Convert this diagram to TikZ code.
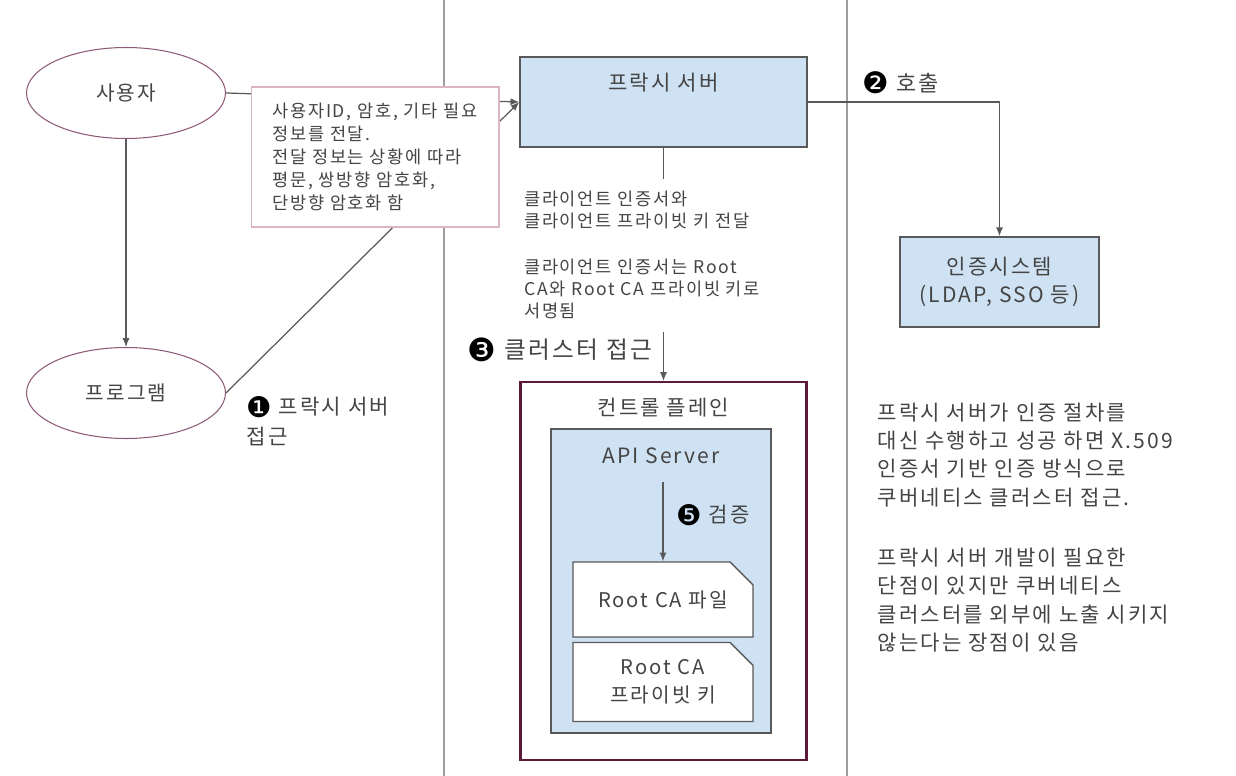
\documentclass[tikz,border=0pt]{standalone}
\usepackage{fontspec}
\setmainfont{Noto Sans CJK KR}[LetterSpace=10]
\newfontfamily\numfont{DejaVu Sans}
\usetikzlibrary{arrows.meta, positioning, shapes.geometric, shapes.misc}

\definecolor{inkgray}{HTML}{444444}
\definecolor{wiregray}{HTML}{595959}
\definecolor{railgray}{HTML}{9E9E9E}
\definecolor{paleblue}{HTML}{CFE2F3}
\definecolor{plum}{HTML}{8E5A78}
\definecolor{rosepink}{HTML}{DDB4C6}
\definecolor{wine}{HTML}{5B1A3A}

\newcommand{\stepmark}[1]{\raisebox{-0.12em}{\scalebox{1.35}{\numfont\color{black}#1}}}

\begin{document}
\begin{tikzpicture}[
  x=0.02cm, y=-0.02cm,
  >={Latex[length=5pt, width=4pt]}, line width=0.7pt,
  every node/.style={text=inkgray},
  actor/.style={ellipse, draw=plum, line width=0.6pt, minimum width=3.98cm, minimum height=1.82cm, font=\fontsize{11.5}{14}\selectfont},
  server/.style={draw=wiregray, fill=paleblue, line width=0.9pt},
  memo/.style={draw=rosepink, fill=white, line width=0.6pt, minimum width=4.96cm, minimum height=2.8cm, align=left, font=\fontsize{10}{13}\selectfont},
  docbox/.style={chamfered rectangle, chamfered rectangle corners=north east, chamfered rectangle xsep=6.5pt, chamfered rectangle ysep=6.5pt, draw=wiregray, fill=white, line width=0.8pt, minimum width=3.6cm, align=center, font=\fontsize{11.5}{15.8}\selectfont},
  caption/.style={font=\fontsize{12}{14}\selectfont},
  remark/.style={align=left, inner sep=0pt, font=\fontsize{12}{16.2}\selectfont},
  wire/.style={draw=wiregray, ->},
  rail/.style={draw=railgray, line width=1.1pt}
]
  \useasboundingbox (0,0) rectangle (1236,776);

  % separateurs
  \draw[rail] (444,0) -- (444,776);
  \draw[rail] (847,0) -- (847,776);

  \node[actor] (user) at (126,93) {사용자};
  \node[actor] (prog) at (126,393) {프로그램};

  \node[server, minimum width=5.74cm, minimum height=1.8cm] (proxy) at (663.5,102) {};
  \node[caption] (proxytitle) at (663.5,83) {프락시 서버};

  \node[server, minimum width=3.98cm, minimum height=1.8cm, align=center, font=\fontsize{12}{15.9}\selectfont] (auth) at (999.5,282) {인증시스템\\(LDAP, SSO 등)};

  \node[draw=wine, line width=1.2pt, minimum width=5.72cm, minimum height=7.56cm] (plane) at (663.5,571) {};
  \node[caption] (planetitle) at (663.5,408) {컨트롤 플레인};
  \node[server, minimum width=4.4cm, minimum height=6.08cm] (api) at (661,581) {};
  \node[caption] (apititle) at (661,456) {API Server};
  \node[docbox, minimum height=1.5cm] (cafile) at (663,599.5) {Root CA 파일};
  \node[docbox, minimum height=1.48cm] (cakey) at (663,682) {Root CA\\프라이빗 키};
  \coordinate (checkfrom) at (663,482);

  \draw[wire] (user) -- (prog);
  \draw[wire] (user.east) -- (proxy.west);
  \draw[wire] (prog.east) -- (proxy.west);
  \draw[wire] (proxy.east) -| (auth.north);
  \draw[wire] (proxy) -- (plane);
  \draw[wire] (checkfrom) -- (cafile.north);

  \node[memo] (memo) at (375,157) {사용자ID, 암호, 기타 필요\\정보를 전달.\\전달 정보는 상황에 따라\\평문, 쌍방향 암호화,\\단방향 암호화 함};

  \node[remark, fill=white, anchor=north west, inner xsep=2pt, inner ysep=7pt, font=\fontsize{10}{12.5}\selectfont] (certmsg) at (520,178) {클라이언트 인증서와\\클라이언트 프라이빗 키 전달\\[14pt]클라이언트 인증서는  Root\\CA와 Root CA 프라이빗 키로\\서명됨};

  \node[remark, anchor=west, font=\fontsize{12}{17}\selectfont] (step1) at (246,421) {\stepmark{❶} 프락시 서버\\접근};
  \node[remark, anchor=west, font=\fontsize{12.5}{15}\selectfont] (step2) at (862,83) {\stepmark{❷} 호출};
  \node[remark, anchor=west, font=\fontsize{13.5}{16}\selectfont] (step3) at (467,350) {\stepmark{❸} 클러스터 접근};
  \node[remark, anchor=west, font=\fontsize{12}{14}\selectfont] (step5) at (676,515) {\stepmark{❺} 검증};

  \node[remark, anchor=north west] (summary) at (877,402) {프락시 서버가 인증 절차를\\대신 수행하고 성공 하면 X.509\\인증서 기반 인증 방식으로\\쿠버네티스 클러스터 접근.\\[18pt]프락시 서버 개발이 필요한\\단점이 있지만 쿠버네티스\\클러스터를 외부에 노출 시키지\\않는다는 장점이 있음};
\end{tikzpicture}
\end{document}
